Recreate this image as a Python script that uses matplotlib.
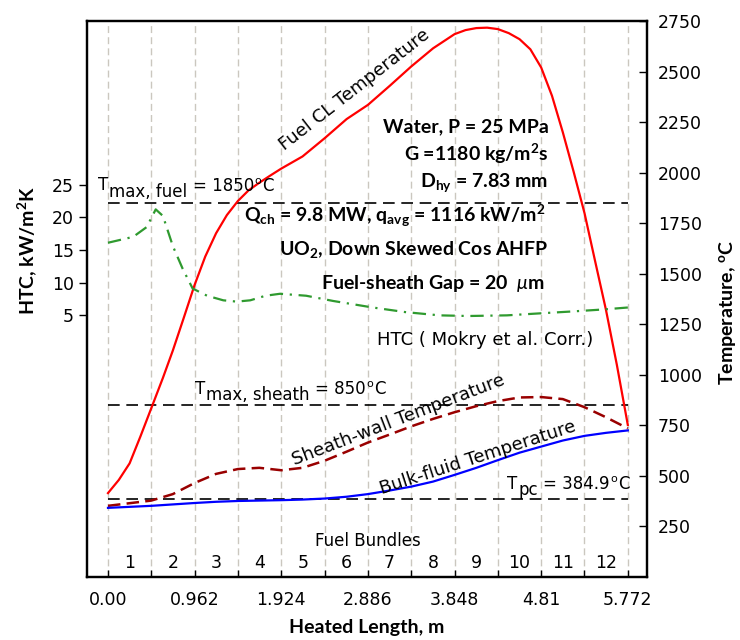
import matplotlib
matplotlib.use('Agg')
import matplotlib.pyplot as plt
import matplotlib.transforms as mtransforms

plt.rcParams['font.family'] = ['DejaVu Sans']
plt.rcParams['mathtext.fontset'] = 'custom'
plt.rcParams['mathtext.rm'] = 'Lato'
plt.rcParams['mathtext.it'] = 'Lato:italic'
plt.rcParams['mathtext.bf'] = 'Lato:bold'
LATO = ['Lato', 'DejaVu Sans']

# fuel centreline temperature (m, deg C)
x_fuel = [0.0, 0.12, 0.24, 0.36, 0.481, 0.61, 0.72, 0.84, 0.962, 1.08, 1.20, 1.32, 1.443,
          1.56, 1.68, 1.80, 1.924, 2.16, 2.405, 2.65, 2.886, 3.13, 3.367, 3.61, 3.848,
          3.97, 4.09, 4.21, 4.329, 4.45, 4.57, 4.69, 4.81, 4.93, 5.05, 5.17, 5.291,
          5.41, 5.53, 5.65, 5.772]
fuel_cl = [415, 480, 562, 695, 835, 985, 1120, 1280, 1445, 1585, 1700, 1790, 1860,
           1912, 1950, 1985, 2020, 2080, 2170, 2265, 2335, 2430, 2525, 2615, 2685,
           2705, 2715, 2717, 2710, 2690, 2660, 2610, 2520, 2380, 2200, 2005, 1800,
           1560, 1320, 1050, 752]

# sheath wall and bulk fluid temperatures (deg C)
x_m = [0.0, 0.24, 0.481, 0.72, 0.962, 1.20, 1.443, 1.68, 1.924, 2.16, 2.405, 2.65,
       2.886, 3.13, 3.367, 3.61, 3.848, 4.09, 4.329, 4.57, 4.81, 5.05, 5.291, 5.53, 5.772]
sheath = [352, 365, 378, 410, 465, 510, 534, 540, 528, 540, 575, 620,
          665, 705, 745, 782, 815, 845, 870, 888, 890, 880, 840, 790, 735]
bulk = [342, 347, 352, 359, 366, 372, 376, 378, 380, 383, 388, 397,
        410, 428, 447, 472, 505, 540, 578, 615, 645, 675, 698, 713, 725]

# heat transfer coefficient (kW/m2K)
x_htc = [0.0, 0.28, 0.43, 0.53, 0.61, 0.72, 0.83, 0.94, 1.10, 1.28, 1.43, 1.58,
         1.75, 1.91, 2.2, 2.5, 2.94, 3.3, 3.68, 4.0, 4.43, 4.79, 5.16, 5.5, 5.772]
htc = [16.1, 17.0, 18.5, 21.2, 20.2, 15.6, 12.1, 9.1, 8.0, 7.3, 7.1, 7.3,
       8.0, 8.3, 8.0, 7.2, 6.2, 5.5, 5.0, 4.9, 5.0, 5.3, 5.6, 5.9, 6.2]

t_max_fuel = 1850
t_max_sheath = 850
t_pc = 384.9

bundle_edges = [0.481 * i for i in range(13)]
bundle_labels = [str(i) for i in range(1, 13)]
x_ticks = [0.0, 0.962, 1.924, 2.886, 3.848, 4.81, 5.772]
x_tick_labels = ['0.00', '0.962', '1.924', '2.886', '3.848', '4.81', '5.772']
htc_ticks = [5, 10, 15, 20, 25]
temp_ticks = [250, 500, 750, 1000, 1250, 1500, 1750, 2000, 2250, 2500, 2750]

fig = plt.figure(figsize=(7.4, 6.4), dpi=100)
ax = fig.add_axes([87 / 740, 1 - 577 / 640, 560 / 740, 556 / 640])
ax2 = ax.twinx()
ax.set_zorder(ax2.get_zorder() + 1)
ax.patch.set_visible(False)

ax.set_xlim(-0.233, 5.985)
ax.set_ylim(-35, 50)
ax2.set_ylim(0, 2750)

for xe in bundle_edges:
    ax2.axvline(xe, color='#cbc7bf', lw=1.0, ls=(0, (5, 3)), zorder=0)

black_dash = (0, (7, 4))
for t in (t_max_fuel, t_max_sheath, t_pc):
    ax2.plot([0, 5.772], [t, t], color='black', lw=1.2, ls=black_dash, zorder=2)

ax2.plot(x_fuel, fuel_cl, color='#ff0000', lw=1.6, zorder=3)
ax2.plot(x_m, sheath, color='#990000', lw=1.8, ls=(0, (5, 2.5)), zorder=3)
ax2.plot(x_m, bulk, color='#0000ff', lw=1.6, zorder=3)
ax.plot(x_htc, htc, color='#2f9a2f', lw=1.6, ls=(0, (6, 3, 1, 3)), zorder=3)

# axes ticks
ax.set_xticks(x_ticks)
ax.set_xticklabels(x_tick_labels, fontsize=12.5)
ax.set_xticks([0.481 * i for i in range(1, 13, 2)], minor=True)
ax.tick_params(axis='x', which='both', direction='in', length=5, width=1, pad=10)
ax.set_yticks(htc_ticks)
ax.tick_params(axis='y', direction='out', length=6, width=1, labelsize=12.5)
ax2.set_yticks(temp_ticks)
ax2.tick_params(axis='y', direction='in', length=6, width=1, labelsize=12.5, pad=8)
for a in (ax, ax2):
    for s in a.spines.values():
        s.set_linewidth(1.6)

fig.text(367 / 740, 1 - 628 / 640, 'Heated Length, m', fontsize=14, fontweight='bold',
         family=LATO, ha='center', va='center')
fig.text(27 / 740, 1 - 250 / 640, 'HTC, kW/m$^\\mathbf{2}$K', fontsize=14, fontweight='bold',
         family=LATO, rotation=90, ha='center', va='center')
fig.text(727 / 740, 1 - 312 / 640, 'Temperature, $^\\mathbf{o}$C', fontsize=14, fontweight='bold',
         family=LATO, rotation=90, ha='center', va='center')

# bundle numbers
trans = mtransforms.blended_transform_factory(ax.transData, ax.transAxes)
for i, lab in enumerate(bundle_labels):
    ax.text((bundle_edges[i] + bundle_edges[i + 1]) / 2, 0.025, lab, transform=trans,
            ha='center', va='center', fontsize=12.5)
ax.text(2.886, 0.065, 'Fuel Bundles', transform=trans, ha='center', va='center', fontsize=12)


def piece_text(x, y, pieces, ha='left'):
    # pieces: (text, vertical shift in points, fontsize, gap after in points)
    renderer = fig.canvas.get_renderer()
    widths = []
    for s, dy, fs, gap in pieces:
        tmp = fig.text(0, 0, s, fontsize=fs)
        widths.append(tmp.get_window_extent(renderer).width * 72 / fig.dpi + gap)
        tmp.remove()
    off = -sum(widths) if ha == 'right' else 0
    for (s, dy, fs, gap), w in zip(pieces, widths):
        tr = mtransforms.offset_copy(ax2.transData, fig=fig, x=off, y=dy, units='points')
        ax2.text(x, y, s, transform=tr, fontsize=fs, ha='left', va='baseline', zorder=4)
        off += w


piece_text(-0.11, 1914, [('T', 0, 12, 0.5), ('max, fuel', -5, 12, 4), ('= 1850', -1, 12, 0.5),
                         ('o', 4, 8, 0.5), ('C', -1, 12, 0)])
piece_text(0.966, 905, [('T', 0, 12, 0.5), ('max, sheath', -4.5, 12, 4), ('= 850', 0, 12, 0.5),
                        ('o', 5, 8, 0.5), ('C', 0, 12, 0)])
piece_text(5.79, 435, [('T', 0, 12, 0.5), ('pc', -4.5, 12, 4), ('= 384.9', 0, 12, 0.5),
                       ('o', 5, 8, 0.5), ('C', 0, 12, 0)], ha='right')

ax2.text(2.74, 2410, 'Fuel CL Temperature', fontsize=13, rotation=38, ha='center', va='center')
ax2.text(3.22, 775, 'Sheath-wall Temperature', fontsize=13, rotation=21, ha='center', va='center')
ax2.text(4.11, 590, 'Bulk-fluid Temperature', fontsize=13, rotation=18, ha='center', va='center')
ax2.text(4.19, 1170, 'HTC ( Mokry et al. Corr.)', fontsize=13, ha='center', va='center')

bold = dict(fontsize=14, fontweight='bold', family=LATO, ha='right', va='center')
ax2.text(4.89, 2225, 'Water, P = 25 MPa', **bold)
ax2.text(4.89, 2092, 'G =1180 kg/m$^\\mathbf{2}$s', **bold)
ax2.text(4.89, 1953, 'D$_\\mathbf{hy}$ = 7.83 mm', **bold)
ax2.text(4.86, 1785, 'Q$_\\mathbf{ch}$ = 9.8 MW, q$_\\mathbf{avg}$ = 1116 kW/m$^\\mathbf{2}$', **bold)
ax2.text(4.89, 1620, 'UO$_\\mathbf{2}$, Down Skewed Cos AHFP', **bold)
ax2.text(4.85, 1452, 'Fuel-sheath Gap = 20  $\\mu$m', **bold)

fig.savefig('out.png', dpi=100)
